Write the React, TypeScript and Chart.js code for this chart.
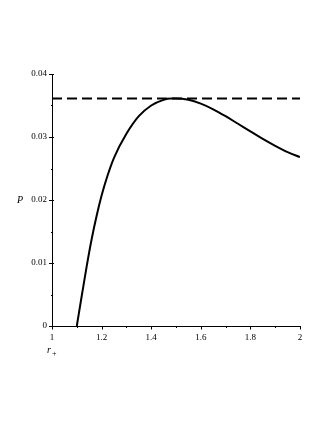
import React, { useEffect, useRef } from "react";
import { Chart, registerables } from "chart.js";

Chart.register(...registerables);

const rValues = [1.1, 1.12, 1.14, 1.16, 1.18, 1.2, 1.225, 1.25, 1.3, 1.35, 1.4, 1.45, 1.48, 1.5, 1.55, 1.6, 1.65, 1.7, 1.75, 1.8, 1.85, 1.9, 1.95, 2.0];
const pValues = [0, 0.0048, 0.0095, 0.0138, 0.0175, 0.0207, 0.024, 0.0267, 0.0305, 0.0333, 0.035, 0.0359, 0.0361, 0.0361, 0.0359, 0.0353, 0.0344, 0.0333, 0.0321, 0.0309, 0.0297, 0.0286, 0.0276, 0.0268];
const dashX = [1, 2];
const dashLevel = 0.0361;
const xTickLabels = ["1", "1.2", "1.4", "1.6", "1.8", "2"];
const yTickLabels = ["0", "0.01", "0.02", "0.03", "0.04"];

const FONT = "'Liberation Serif', 'Times New Roman', serif";

const tickPlugin = {
  id: "customTicks",
  afterDraw(chart: any) {
    const ctx = chart.ctx;
    const x = chart.scales.x;
    const y = chart.scales.y;
    const area = chart.chartArea;
    ctx.save();
    ctx.strokeStyle = "#000";
    ctx.lineWidth = 1;
    for (let i = 0; i <= 10; i++) {
      const v = 1 + i * 0.1;
      const px = Math.round(x.getPixelForValue(v)) + 0.5;
      const len = i % 2 === 0 ? 3.5 : 2;
      ctx.beginPath();
      ctx.moveTo(px, area.bottom);
      ctx.lineTo(px, area.bottom + len);
      ctx.stroke();
    }
    for (let i = 0; i <= 8; i++) {
      const v = i * 0.005;
      const py = Math.round(y.getPixelForValue(v)) + 0.5;
      const major = i % 2 === 0;
      ctx.beginPath();
      ctx.moveTo(area.left - (major ? 3 : 1), py);
      ctx.lineTo(area.left + (major ? 2 : 1), py);
      ctx.stroke();
    }
    ctx.fillStyle = "#000";
    ctx.textBaseline = "middle";
    ctx.textAlign = "left";
    ctx.font = `italic 10px ${FONT}`;
    ctx.fillText("P", 17, y.getPixelForValue(0.02));
    ctx.fillText("r", 47, 350);
    ctx.font = `8px ${FONT}`;
    ctx.fillText("+", 52, 354);
    ctx.restore();
  },
};

export default function App() {
  const ref = useRef<HTMLCanvasElement | null>(null);
  useEffect(() => {
    if (!ref.current) return;
    const curve = rValues.map((r, i) => ({ x: r, y: pValues[i] }));
    const dash = dashX.map((r) => ({ x: r, y: dashLevel }));
    const chart = new Chart(ref.current, {
      type: "line",
      data: {
        datasets: [
          {
            data: dash,
            borderColor: "#000",
            borderWidth: 2,
            borderDash: [10, 5],
            pointRadius: 0,
          },
          {
            data: curve,
            borderColor: "#000",
            borderWidth: 2,
            pointRadius: 0,
            cubicInterpolationMode: "monotone",
          },
        ],
      },
      options: {
        animation: false,
        responsive: false,
        events: [],
        layout: { padding: { left: 0, top: 74, right: 27, bottom: 77 } },
        plugins: { legend: { display: false }, tooltip: { enabled: false } },
        scales: {
          x: {
            type: "linear",
            min: 1,
            max: 2,
            grid: { display: false, drawTicks: false },
            border: { display: true, color: "#000", width: 1 },
            afterFit: (s: any) => { s.height = 20; },
            ticks: {
              stepSize: 0.2,
              padding: 6,
              color: "#000",
              font: { family: FONT, size: 9 },
              maxRotation: 0,
              autoSkip: false,
              callback: (v: any) => {
                const idx = Math.round((Number(v) - 1) / 0.2);
                return xTickLabels[idx] ?? "";
              },
            },
          },
          y: {
            type: "linear",
            min: 0,
            max: 0.04,
            grid: { display: false, drawTicks: false },
            border: { display: true, color: "#000", width: 1 },
            afterFit: (s: any) => { s.width = 52; },
            ticks: {
              stepSize: 0.01,
              padding: 5,
              color: "#000",
              font: { family: FONT, size: 9 },
              autoSkip: false,
              callback: (v: any) => {
                const idx = Math.round(Number(v) / 0.01);
                return yTickLabels[idx] ?? "";
              },
            },
          },
        },
      },
      plugins: [tickPlugin],
    });
    return () => chart.destroy();
  }, []);
  return (
    <div style={{ position: "absolute", left: 0, top: 0, width: 327, height: 423, background: "#fff" }}>
      <canvas ref={ref} width={327} height={423} style={{ display: "block" }} />
    </div>
  );
}
